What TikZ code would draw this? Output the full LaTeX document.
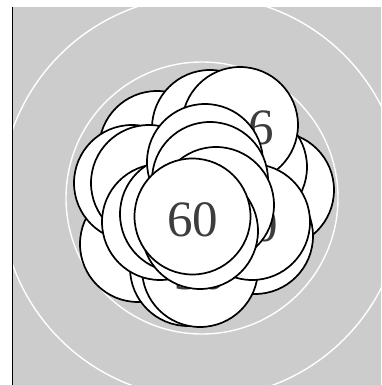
\documentclass[tikz,border=0pt]{standalone}
\usepackage{fontspec}
\setmainfont{Liberation Serif}
\definecolor{bggray}{HTML}{CCCCCC}
\definecolor{numgray}{HTML}{3D3D3D}
\begin{document}
\begin{tikzpicture}[x=1pt,y=-1pt,
  bub/.style={circle,draw=black,fill=white,line width=1.7pt,minimum size=116pt,inner sep=0pt},
  num/.style={text=numgray,font=\fontsize{51}{51}\selectfont,inner sep=0pt,yshift=-3pt},
  ring/.style={draw=white,line width=1.4pt}]
\useasboundingbox (0,0) rectangle (381,385);
\fill[bggray] (12.5,7) rectangle (381,385);
\begin{scope}
\clip (12.5,7) rectangle (381,385);
\draw[ring] (202,197) circle (201);
\draw[ring] (202,198) circle (136);
\end{scope}
\coordinate (ltop) at (12.5,7);
\coordinate (lbot) at (12.5,385);
\draw[line width=0.9pt] (ltop) -- (lbot);
% back to front
\node[bub] (a) at (157,149) {};
\node[bub] (j) at (138,244) {};
\node[bub] (e) at (276,190) {};
\node[bub] (g) at (255,236) {};
\node[bub] (d) at (249,167) {};
\node[bub] (b) at (210,128) {};
\node[bub] (c) at (240,125) {};
\node[num,xshift=21pt] (tc) at (c) {6};
\node[bub] (k) at (132,183) {};
\node[bub] (l) at (149,183) {};
\node[bub] (i) at (188,268) {};
\node[bub] (h) at (200,269) {};
\node[num,yshift=-1pt] (th) at (h) {30};
\node[bub] (f) at (252,222) {};
\node[num] (tf) at (f) {50};
\node[bub] (n) at (160,222) {};
\node[bub] (o) at (178,214) {};
\node[bub] (r) at (205,162) {};
\node[bub] (q) at (210,180) {};
\node[bub] (u) at (216,205) {};
\node[bub] (v) at (200,231) {};
\node[bub] (p) at (192.5,216.5) {};
\node[num] (tp) at (p) {60};
\end{tikzpicture}
\end{document}
